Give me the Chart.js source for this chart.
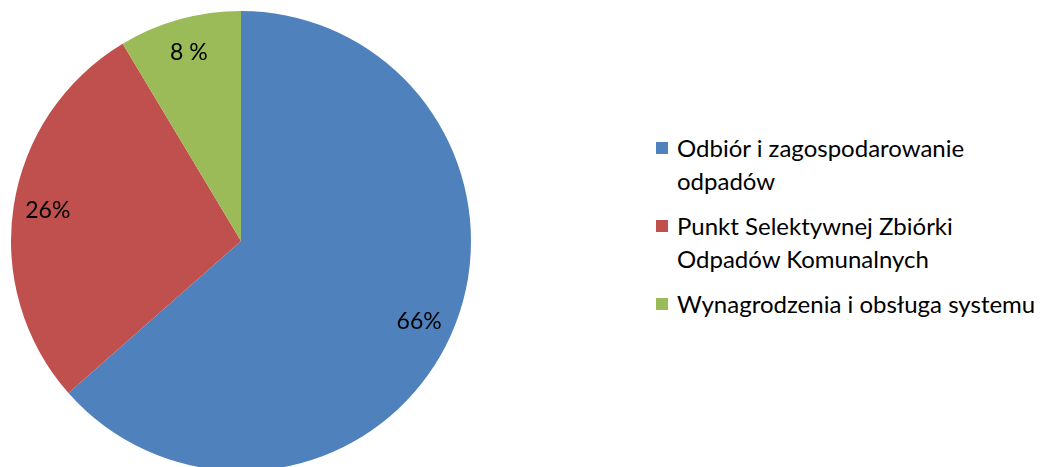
<!DOCTYPE html>
<html>
<head>
<meta charset="utf-8">
<script src="https://cdn.jsdelivr.net/npm/chart.js@4.4.2/dist/chart.umd.min.js"></script>
<style>
  html, body { margin: 0; padding: 0; background: #fff; overflow: hidden; width: 1046px; height: 467px; }
  #wrap { position: absolute; left: 0; top: 0; width: 482px; height: 482px; }
  #legend { position: absolute; left: 656px; top: 131px; font-family: Lato, sans-serif; font-size: 24px; line-height: 33px; color: #000; }
  #legend .item { position: relative; padding-left: 21px; margin-bottom: 12px; white-space: nowrap; }
  #legend .box { position: absolute; left: 0; top: 11px; width: 12px; height: 12px; }
</style>
</head>
<body>
<div id="wrap"><canvas id="pie"></canvas></div>
<div id="legend"></div>
<script>
const categories = [
  ['Odbiór i zagospodarowanie', 'odpadów'],
  ['Punkt Selektywnej Zbiórki', 'Odpadów Komunalnych'],
  ['Wynagrodzenia i obsługa systemu']
];
const shares = [63.5, 27.9, 8.6];
const shareLabels = ['66%', '26%', '8 %'];
const colors = ['#4F81BD', '#C0504D', '#9BBB59'];

// percent labels drawn inside each slice
const sliceLabels = {
  id: 'sliceLabels',
  afterDatasetsDraw(chart) {
    const ctx = chart.ctx;
    const meta = chart.getDatasetMeta(0);
    ctx.save();
    ctx.font = '23px Lato, sans-serif';
    ctx.fillStyle = '#000';
    ctx.textAlign = 'center';
    ctx.textBaseline = 'middle';
    meta.data.forEach((arc, i) => {
      const p = arc.getProps(['x', 'y', 'startAngle', 'endAngle', 'outerRadius'], true);
      const mid = (p.startAngle + p.endAngle) / 2;
      const r = p.outerRadius * 0.85;
      ctx.fillText(shareLabels[i], p.x + Math.cos(mid) * r, p.y + Math.sin(mid) * r);
    });
    ctx.restore();
  }
};

const chart = new Chart(document.getElementById('pie'), {
  type: 'pie',
  data: {
    labels: categories.map(c => c.join(' ')),
    datasets: [{
      data: shares,
      backgroundColor: colors,
      borderWidth: 0
    }]
  },
  options: {
    responsive: true,
    maintainAspectRatio: false,
    animation: false,
    layout: { padding: 11 },
    plugins: {
      legend: { display: false },
      tooltip: { enabled: false }
    }
  },
  plugins: [sliceLabels]
});

const legend = document.getElementById('legend');
categories.forEach((lines, i) => {
  const item = document.createElement('div');
  item.className = 'item';
  const box = document.createElement('span');
  box.className = 'box';
  box.style.background = colors[i];
  item.appendChild(box);
  item.insertAdjacentHTML('beforeend', lines.join('<br>'));
  legend.appendChild(item);
});
</script>
</body>
</html>
